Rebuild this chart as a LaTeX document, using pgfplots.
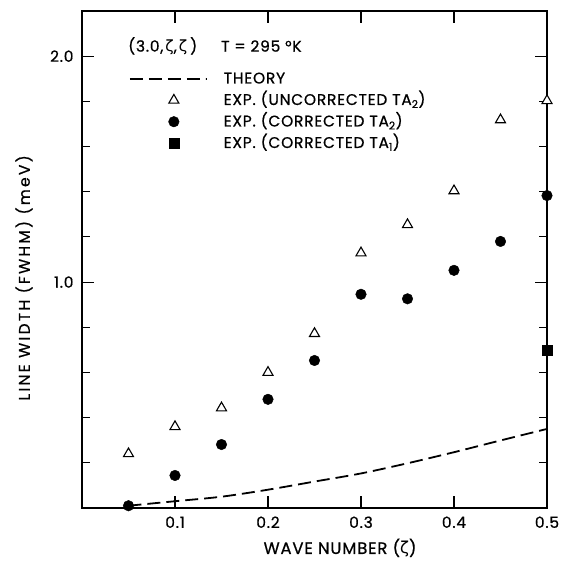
\documentclass[border=0pt]{standalone}
\usepackage{pgfplots}
\pgfplotsset{compat=1.18}
\usepackage{fontspec}
\setmainfont{Poppins}[LetterSpace=5, FakeBold=0.7]
\newfontfamily\greekfont{DejaVu Sans}
\newfontfamily\ylabfont{Poppins}[LetterSpace=15, FakeBold=0.7]
\newcommand{\z}{{\greekfont ζ}}
\begin{document}
\begin{tikzpicture}
\path[use as bounding box] (-82bp,-54bp) rectangle (482bp,508bp);
\begin{axis}[
  scale only axis, width=465bp, height=497bp,
  xmin=0, xmax=0.5, ymin=0, ymax=2.2,
  clip=false,
  /pgf/number format/assume math mode=true,
  xtick={0.1,0.2,0.3,0.4,0.5},
  xticklabels={0.1,0.2,0.3,0.4,0.5},
  ytick={1,2}, yticklabels={1.0,2.0},
  minor ytick={0.2,0.4,0.6,0.8,1.2,1.4,1.6,1.8},
  tick align=inside,
  major tick length=12bp, minor tick length=8bp,
  axis line style={line width=1.4bp},
  every tick/.style={line width=1.1bp, black},
  ticklabel style={font=\fontsize{15.5}{18}\selectfont},
  xticklabel style={yshift=-5bp},
  yticklabel style={xshift=-5bp},
  xlabel={WAVE NUMBER (\z)},
  ylabel={LINE WIDTH (FWHM) (meV)},
  xlabel style={font=\fontsize{16.5}{19}\selectfont, at={(axis description cs:0.555,0)}, anchor=center, yshift=-40bp},
  ylabel style={font=\ylabfont\fontsize{15.5}{18}\selectfont, at={(axis description cs:0,0.463)}, anchor=center, yshift=58bp},
  legend image code/.code={\draw[mark repeat=2,mark phase=2,#1] plot coordinates {(0bp,0bp)(44bp,0bp)(77bp,0bp)};},
  legend style={draw=none, fill=none, inner sep=0pt, outer sep=0pt,
    at={(axis description cs:0.101,0.8763)}, anchor=north west,
    row sep=9bp, column sep=0bp,
    nodes={inner sep=0pt, anchor=west, font=\fontsize{15.5}{18}\selectfont},
    /tikz/every odd column/.append style={column sep=16bp},
    /tikz/every even column/.append style={text height=11bp, text depth=3bp}},
  legend cell align=left,
]
\addplot[black, line width=1.8bp, dash pattern=on 13bp off 6bp, smooth] coordinates {
(0.05,0.010) (0.10,0.030) (0.15,0.050) (0.20,0.081) (0.25,0.117)
(0.30,0.153) (0.35,0.198) (0.40,0.247) (0.45,0.299) (0.50,0.350)};
\addlegendentry{THEORY}
\addplot[forget plot, draw=none, mark=none, black,
  error bars/.cd, y dir=both, y explicit,
  error bar style={line width=1.1bp, black},
  error mark options={line width=1.1bp, mark size=5bp, black}]
  coordinates {(0.5,1.803) +- (0,0.08)};
\addplot[only marks, mark=triangle*, mark size=5.8bp, black,
  mark options={fill=white, line width=1.1bp}] coordinates {
(0.05,0.240) (0.10,0.360) (0.15,0.443) (0.20,0.600) (0.25,0.772)
(0.30,1.129) (0.35,1.254) (0.40,1.404) (0.45,1.718) (0.50,1.803)};
\addlegendentry{EXP. (UNCORRECTED TA\textsubscript{2})}
\addplot[only marks, mark=*, mark size=5.3bp, black] coordinates {
(0.05,0.010) (0.10,0.144) (0.15,0.281) (0.20,0.481) (0.25,0.653)
(0.30,0.946) (0.35,0.926) (0.40,1.052) (0.45,1.180) (0.50,1.383)};
\addlegendentry{EXP. (CORRECTED TA\textsubscript{2})}
\addplot[only marks, mark=square*, mark size=5bp, black] coordinates {(0.5,0.699)};
\addlegendentry{EXP. (CORRECTED TA\textsubscript{1})}
\node[anchor=west, inner sep=0pt, font=\fontsize{15.5}{18}\selectfont] at (axis description cs:0.0989,0.9295) {(3.0,\hspace{2bp}\z,\hspace{2bp}\z\hspace{3bp})};
\node[anchor=west, inner sep=0pt, font=\fontsize{15.5}{18}\selectfont] at (axis description cs:0.2989,0.9295) {T = 295 °K};
\end{axis}
\end{tikzpicture}
\end{document}
